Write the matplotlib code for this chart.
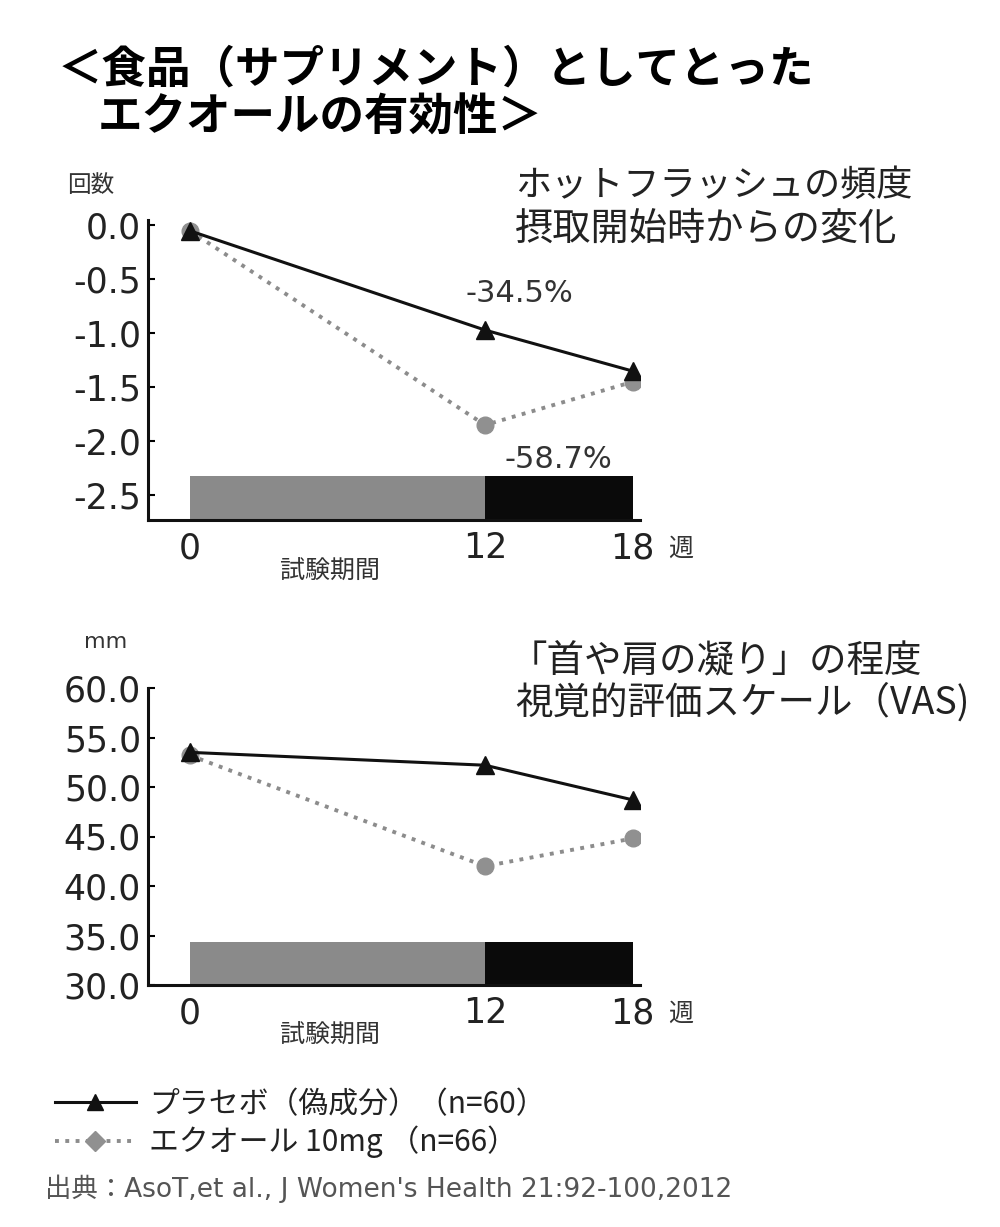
import matplotlib
matplotlib.use("Agg")
import matplotlib.pyplot as plt
from matplotlib.lines import Line2D

plt.rcParams['font.family'] = ['Noto Sans CJK JP', 'DejaVu Sans']
LATIN = ['DejaVu Sans', 'Noto Sans CJK JP']

# data
weeks = [0, 12, 18]
hf_placebo = [-0.05, -0.97, -1.35]
hf_equol = [-0.05, -1.85, -1.45]
vas_placebo = [53.5, 52.2, 48.7]
vas_equol = [53.2, 42.0, 44.8]
hf_yticks = [0.0, -0.5, -1.0, -1.5, -2.0, -2.5]
vas_yticks = [60, 55, 50, 45, 40, 35, 30]
periods = [(0, 12, '#8a8a8a'), (12, 18, '#0a0a0a')]

W, H = 1000, 1227
fig = plt.figure(figsize=(W / 100, H / 100), dpi=100)


def box(x0, y0, x1, y1):
    return [x0 / W, 1 - y1 / H, (x1 - x0) / W, (y1 - y0) / H]


def ftext(x, y, s, **kw):
    fig.text(x / W, 1 - y / H, s, **kw)


def setup(ax, ylim, yticks, fmt, bar_top):
    ax.set_xlim(-1.7, 18.3)
    ax.set_ylim(*ylim)
    for s in ['top', 'right']:
        ax.spines[s].set_visible(False)
    for s in ['left', 'bottom']:
        ax.spines[s].set_linewidth(2.2)
        ax.spines[s].set_color('#111111')
    ax.set_yticks(yticks)
    ax.set_yticklabels([fmt.format(v) for v in yticks], family=LATIN)
    ax.set_xticks(weeks)
    ax.set_xticklabels([str(w) for w in weeks], family=LATIN)
    ax.tick_params(axis='y', direction='in', length=5, width=1.5, pad=5,
                   labelsize=25, labelcolor='#222222')
    ax.tick_params(axis='x', length=0, pad=8, labelsize=25, labelcolor='#222222')
    for x0, x1, c in periods:
        ax.fill_between([x0, x1], ylim[0], bar_top, color=c, lw=0, zorder=1)


def draw(ax, placebo, equol):
    ax.plot(weeks, equol, ls=':', lw=2.8, color='#8c8c8c', marker='o',
            ms=12, mfc='#909090', mec='#909090', zorder=3)
    ax.plot(weeks, placebo, ls='-', lw=2.2, color='#111111', marker='^',
            ms=13, mfc='#111111', mec='#111111', zorder=4)


# top chart
ax1 = fig.add_axes(box(148, 220, 640, 520))
setup(ax1, (-2.73, 0.05), hf_yticks, '{:.1f}', -2.32)
draw(ax1, hf_placebo, hf_equol)
ax1.text(13.4, -0.63, '-34.5%', fontsize=22, family=LATIN, color='#333333',
         ha='center', va='center')
ax1.text(15.0, -2.17, '-58.7%', fontsize=22, family=LATIN, color='#333333',
         ha='center', va='center')

# bottom chart
ax2 = fig.add_axes(box(148, 688, 640, 985))
setup(ax2, (30, 60), vas_yticks, '{:.1f}', 34.3)
draw(ax2, vas_placebo, vas_equol)

# titles
ftext(58, 70, '＜食品（サプリメント）としてとった', fontsize=32, weight='bold', va='center')
ftext(98, 118, 'エクオールの有効性＞', fontsize=32, weight='bold', va='center')

ftext(67, 186, '回数', fontsize=17, color='#333333', va='center')
ftext(515, 186, 'ホットフラッシュの頻度', fontsize=26, color='#222222', va='center')
ftext(515, 229, '摂取開始時からの変化', fontsize=27.5, color='#222222', va='center')
ftext(668, 549, '週', fontsize=18, color='#333333', va='center')
ftext(330, 572, '試験期間', fontsize=18, color='#333333', va='center', ha='center')

ftext(84, 642, 'mm', fontsize=16, family=LATIN, color='#333333', va='center')
ftext(510, 662, '「首や肩の凝り」の程度', fontsize=27, color='#222222', va='center')
ftext(515, 703, '視覚的評価スケール（VAS)', fontsize=27, color='#222222', va='center')
ftext(668, 1014, '週', fontsize=18, color='#333333', va='center')
ftext(330, 1036, '試験期間', fontsize=18, color='#333333', va='center', ha='center')

# legend
handles = [
    Line2D([], [], ls='-', lw=2.2, color='#111111', marker='^', ms=12),
    Line2D([], [], ls=':', lw=2.8, color='#8c8c8c', marker='D', ms=10,
           mfc='#909090', mec='#909090'),
]
labels = ['プラセボ（偽成分）（n=60）', 'エクオール 10mg （n=66）']
fig.legend(handles, labels, loc='upper left', bbox_to_anchor=(40 / W, 1 - 1074 / H),
           frameon=False, fontsize=21.5, handlelength=2.7, handletextpad=0.45,
           labelspacing=0.2, borderpad=0, labelcolor='#222222')

ftext(45, 1189, '出典：AsoT,et al., J Women\'s Health 21:92-100,2012', fontsize=19,
      family=LATIN, color='#555555', va='center')

fig.savefig('out.png', dpi=100)
